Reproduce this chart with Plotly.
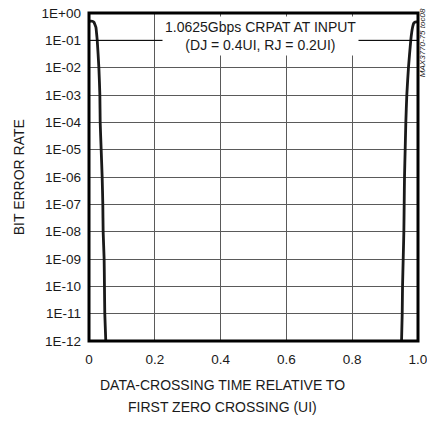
import plotly.graph_objects as go

# ---- data ----
left_ui = [0.000, 0.010, 0.015, 0.018, 0.021, 0.023, 0.025, 0.030, 0.033, 0.034,
           0.037, 0.040, 0.042, 0.043, 0.046, 0.047, 0.048, 0.051]
left_ber = [0.5, 0.5, 0.46, 0.38, 0.3, 0.18, 1e-1, 1e-2, 1e-3, 1e-4,
            1e-5, 1e-6, 1e-7, 1e-8, 1e-9, 1e-10, 1e-11, 1e-12]

right_ui = [0.950, 0.952, 0.953, 0.955, 0.957, 0.958, 0.959, 0.961, 0.963, 0.966,
            0.971, 0.978, 0.981, 0.984, 0.987, 0.990, 0.995, 1.000]
right_ber = [1e-12, 1e-11, 1e-10, 1e-9, 1e-8, 1e-7, 1e-6, 1e-5, 1e-4, 1e-3,
             1e-2, 1e-1, 0.2, 0.32, 0.42, 0.46, 0.47, 0.47]

x_tickvals = [0, 0.2, 0.4, 0.6, 0.8, 1.0]
x_ticktext = ["0", "0.2", "0.4", "0.6", "0.8", "1.0"]
y_tickvals = [1e0, 1e-1, 1e-2, 1e-3, 1e-4, 1e-5, 1e-6, 1e-7, 1e-8, 1e-9, 1e-10, 1e-11, 1e-12]
y_ticktext = ["1E+00", "1E-01", "1E-02", "1E-03", "1E-04", "1E-05", "1E-06",
              "1E-07", "1E-08", "1E-09", "1E-10", "1E-11", "1E-12"]

FONT = "Liberation Sans, Arial, sans-serif"

fig = go.Figure()
for xs, ys in [(left_ui, left_ber), (right_ui, right_ber)]:
    fig.add_trace(go.Scatter(x=xs, y=ys, mode="lines",
                             line=dict(color="#1a1a1a", width=2.8, shape="spline", smoothing=0.5),
                             showlegend=False, hoverinfo="skip"))

fig.update_layout(
    width=427, height=425, autosize=False,
    margin=dict(l=89, r=9, t=13, b=84),
    paper_bgcolor="white", plot_bgcolor="white",
    font=dict(family=FONT, size=14, color="#1a1a1a"),
    xaxis=dict(range=[0, 1], tickvals=x_tickvals, ticktext=x_ticktext,
               showgrid=True, gridcolor="#5a5a5a", gridwidth=1, zeroline=False,
               showline=False, ticks="", ticklabelstandoff=8, automargin=False,
               ticklabeloverflow="allow",
               tickfont=dict(family=FONT, size=13.5)),
    yaxis=dict(type="log", range=[-12, 0], tickvals=y_tickvals, ticktext=y_ticktext,
               showgrid=True, gridcolor="#5a5a5a", gridwidth=1, zeroline=False,
               showline=False, ticks="", ticklabelstandoff=7, automargin=False,
               ticklabeloverflow="allow",
               tickfont=dict(family=FONT, size=13.5)),
    shapes=[
        dict(type="line", xref="paper", yref="paper", x0=0, x1=1, y0=11/12, y1=11/12,
             line=dict(color="black", width=1)),
        dict(type="rect", xref="paper", yref="paper", x0=0, x1=1, y0=0, y1=1,
             line=dict(color="black", width=3), layer="above"),
    ],
    annotations=[
        dict(text="1.0625Gbps CRPAT AT INPUT<br>(DJ = 0.4UI, RJ = 0.2UI)",
             xref="paper", yref="paper", x=0.52, y=0.931, xanchor="center", yanchor="middle",
             showarrow=False, bgcolor="white", borderpad=2, font=dict(family=FONT, size=14)),
        dict(text="DATA-CROSSING TIME RELATIVE TO", xref="paper", yref="paper",
             x=0.407, y=-0.133, showarrow=False, xanchor="center", yanchor="middle",
             font=dict(family=FONT, size=14)),
        dict(text="FIRST ZERO CROSSING (UI)", xref="paper", yref="paper",
             x=0.407, y=-0.20, showarrow=False, xanchor="center", yanchor="middle",
             font=dict(family=FONT, size=14)),
        dict(text="BIT ERROR RATE", xref="paper", yref="paper", x=-0.212, y=0.5,
             textangle=-90, showarrow=False, xanchor="center", yanchor="middle",
             font=dict(family=FONT, size=14)),
        dict(text="<i>MAX3770-75 toc08</i>", xref="paper", yref="paper", x=1.014, y=0.91,
             textangle=-90, showarrow=False, xanchor="center", yanchor="middle",
             font=dict(family=FONT, size=8)),
    ],
)

fig.write_html("out.html", config={"displayModeBar": False, "staticPlot": True},
               post_script="document.body.style.margin='0';document.body.style.padding='0';")
